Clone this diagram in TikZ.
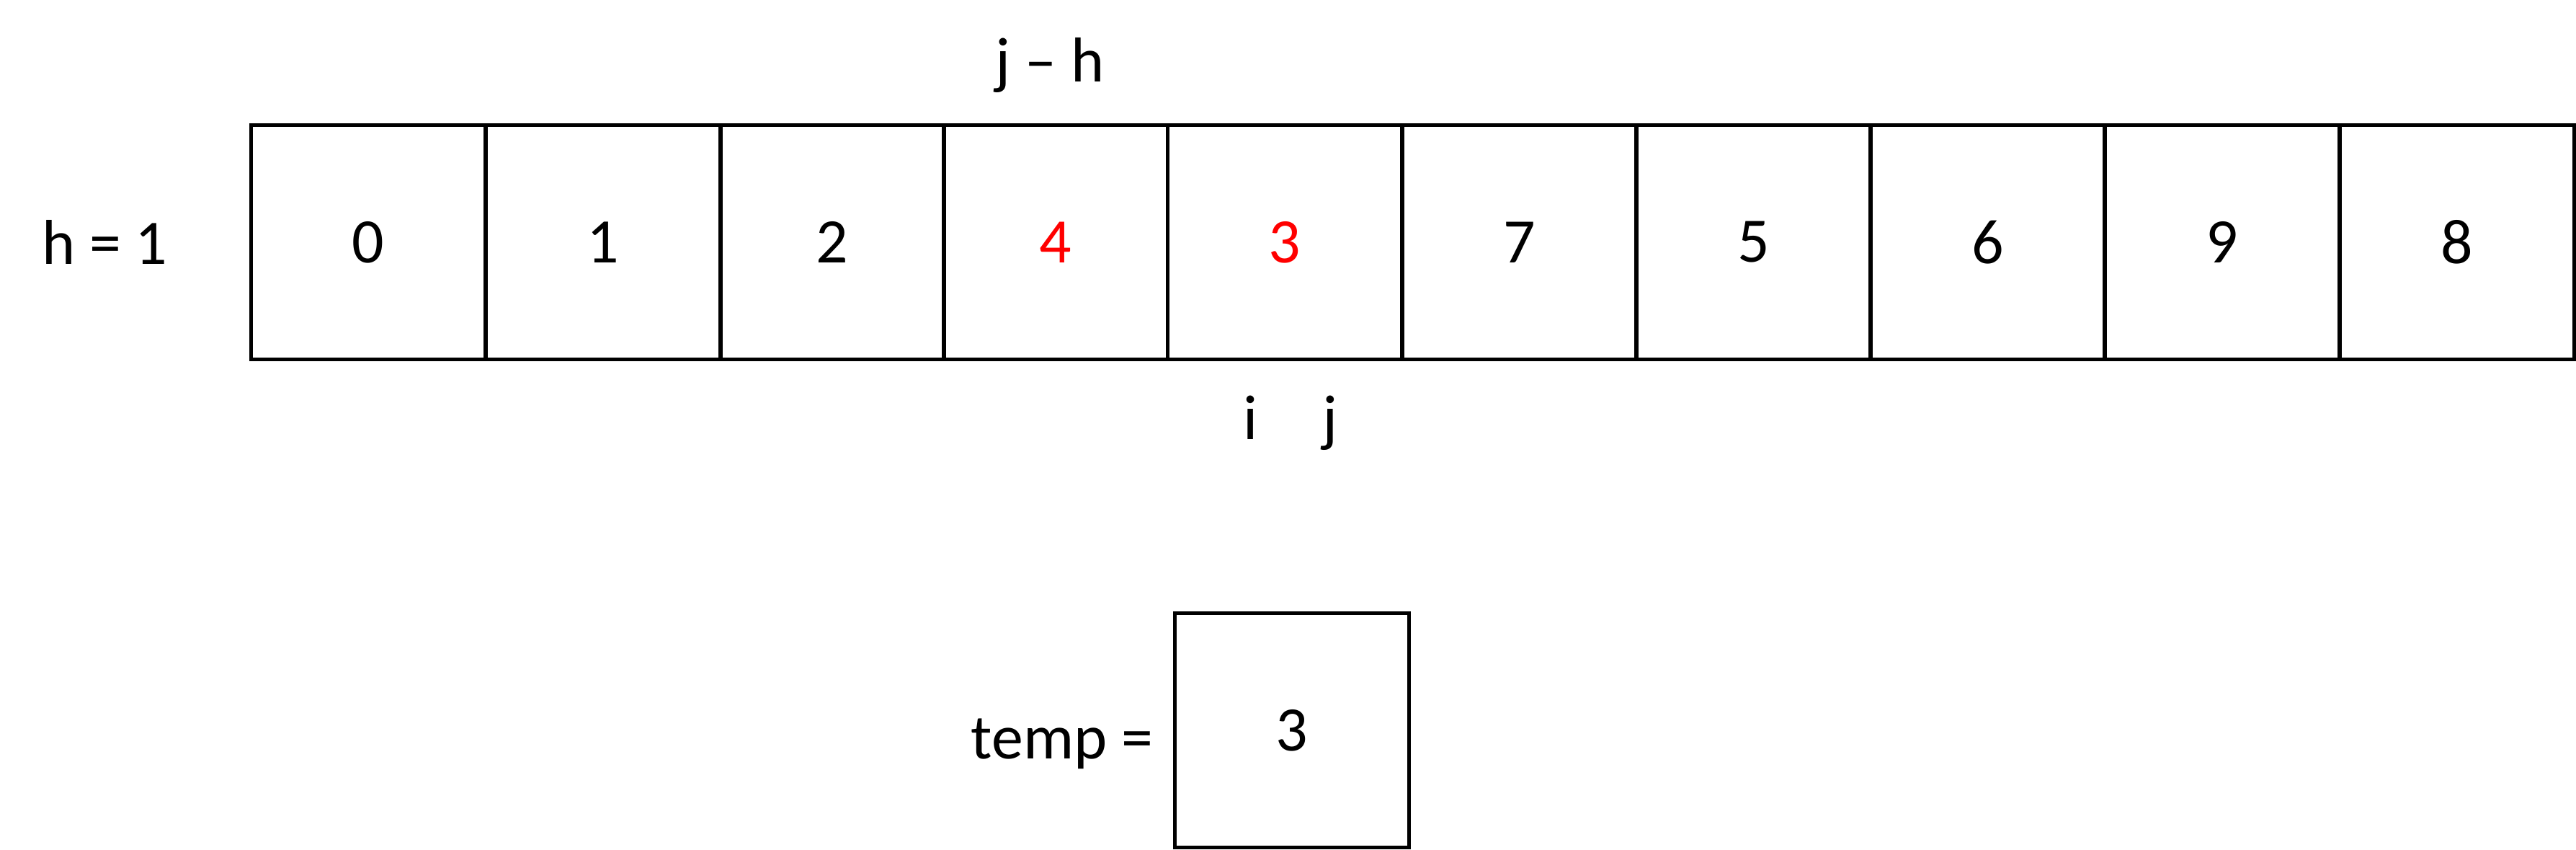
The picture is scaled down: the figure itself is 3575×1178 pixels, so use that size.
\documentclass[tikz,border=0pt]{standalone}
\usepackage{fontspec}
\setmainfont{Carlito}
\begin{document}
\begin{tikzpicture}[x=0.01cm,y=-0.01cm,
  cell/.style={draw=black,line width=1.42pt,minimum height=3.25cm,inner sep=0pt,outer sep=0pt,font=\fontsize{25}{30}\selectfont},
  lbl/.style={inner sep=0pt,outer sep=0pt,font=\fontsize{25}{30}\selectfont},
  hot/.style={text=red}]
\useasboundingbox (0,0) rectangle (3575,1178);
\node[cell,minimum width=3.255cm] (c0) at (511.25,336) {0};
\node[cell,minimum width=3.26cm]  (c1) at (837,336) {1};
\node[cell,minimum width=3.10cm]  (c2) at (1155,336) {2};
\node[cell,minimum width=3.105cm,hot] (c3) at (1465.25,336) {4};
\node[cell,minimum width=3.255cm,hot] (c4) at (1783.25,336) {3};
\node[cell,minimum width=3.25cm]  (c5) at (2108.5,336) {7};
\node[cell,minimum width=3.25cm]  (c6) at (2433.5,336) {5};
\node[cell,minimum width=3.25cm]  (c7) at (2758.5,336) {6};
\node[cell,minimum width=3.26cm]  (c8) at (3084,336) {9};
\node[cell,minimum width=3.255cm] (c9) at (3409.75,336) {8};
\node[lbl,anchor=base west] (h) at (58,366) {h = 1};
\node[lbl,anchor=base] (jh) at (1457,113) {j – h};
\node[lbl,anchor=base] (i) at (1736,609) {i};
\node[lbl,anchor=base] (j) at (1846,609) {j};
\node[cell,minimum width=3.255cm] (temp) at (1793,1013) {3};
\node[lbl,anchor=base east] (tl) at (1600,1052) {temp =};
\end{tikzpicture}
\end{document}
